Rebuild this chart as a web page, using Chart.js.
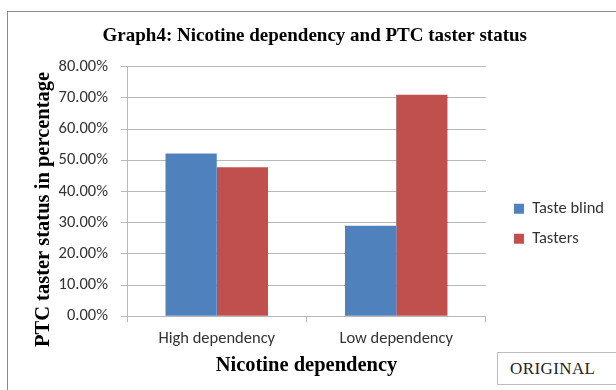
<!DOCTYPE html>
<html>
<head>
<meta charset="utf-8">
<script src="https://cdn.jsdelivr.net/npm/chart.js@4.4.1/dist/chart.umd.min.js"></script>
<style>
  html, body { margin: 0; padding: 0; background: #ffffff; overflow: hidden; }
  #stage { position: relative; width: 616px; height: 390px; overflow: hidden; background: #ffffff; }
  #frame { position: absolute; left: 7px; top: 11px; width: 640px; height: 420px; border: 1px solid #8a8a8a; box-sizing: border-box; }
  #chart { position: absolute; left: 0; top: 0; }
  #stamp { position: absolute; left: 497px; top: 352px; width: 140px; height: 33px; border: 1px solid #bdbdbd;
           box-sizing: border-box; background: #ffffff; font-family: "Liberation Serif", "Times New Roman", serif;
           font-size: 17px; letter-spacing: 0.4px; color: #222222; line-height: 31px; padding-left: 12px; }
</style>
</head>
<body>
<div id="stage">
  <div id="frame"></div>
  <canvas id="chart" width="616" height="390"></canvas>
  <div id="stamp">ORIGINAL</div>
</div>
<script>
// Nicotine dependency groups and share of each PTC taster status (percent)
const categories = ['High dependency', 'Low dependency'];
const seriesNames = ['Taste blind', 'Tasters'];
const tasteBlind = [52.2, 29.0];
const tasters = [47.8, 71.0];
// value axis: 0% to 80% in steps of 10%
const yTickMax = 80;
const yTickStep = 10;

const sansFont = 'Carlito, Calibri, "Open Sans", Lato, sans-serif';
const serifFont = '"Liberation Serif", "Times New Roman", serif';
const gridGray = '#b8b8b8';

// nudges the legend away from the plot and centres the heading over the frame
const boxNudge = {
  id: 'boxNudge',
  afterLayout(chart) {
    const lg = chart.legend;
    if (lg) { lg.left += 14.5; lg.right += 14.5; }
    const tb = chart.titleBlock;
    if (tb) { tb.left += 15; tb.right += 15; }
  }
};

new Chart(document.getElementById('chart'), {
  type: 'bar',
  data: {
    labels: categories,
    datasets: [
      { label: seriesNames[0], data: tasteBlind, backgroundColor: '#4F81BD', borderWidth: 0 },
      { label: seriesNames[1], data: tasters, backgroundColor: '#C0504D', borderWidth: 0 }
    ]
  },
  plugins: [boxNudge],
  options: {
    responsive: false,
    animation: false,
    devicePixelRatio: 1,
    layout: { padding: { left: 0, right: 16.5, top: 0, bottom: 5.5 } },
    datasets: { bar: { categoryPercentage: 0.571, barPercentage: 1.0 } },
    scales: {
      x: {
        offset: true,
        grid: { offset: true, drawOnChartArea: false, drawTicks: true, tickLength: 6, color: gridGray },
        border: { display: true, color: gridGray, width: 1 },
        ticks: { color: '#333333', padding: 7, font: { family: sansFont, size: 16.5 } },
        title: {
          display: true, text: 'Nicotine dependency', color: '#000000',
          font: { family: serifFont, size: 20.5, weight: 'bold', lineHeight: 1 },
          padding: { top: -0.5, bottom: 8.5 }
        }
      },
      y: {
        min: 0, max: yTickMax,
        grid: { color: gridGray, tickLength: 6, lineWidth: 1 },
        border: { display: true, color: gridGray, width: 1 },
        ticks: {
          stepSize: yTickStep, color: '#333333', padding: 13,
          font: { family: sansFont, size: 16.5 },
          callback: (v) => v.toFixed(2) + '%'
        },
        title: {
          display: true, text: 'PTC taster status in percentage       ', color: '#000000',
          font: { family: serifFont, size: 20.5, weight: 'bold' },
          padding: { top: 31, bottom: -10 }
        }
      }
    },
    plugins: {
      title: {
        display: true,
        text: 'Graph4: Nicotine dependency and PTC taster status',
        color: '#000000',
        font: { family: serifFont, size: 19, weight: 'bold' },
        padding: { top: 25, bottom: 19 }
      },
      legend: {
        position: 'right',
        fullSize: false,
        align: 'start',
        title: { display: true, text: '', font: { size: 10 }, padding: { top: 108.25, bottom: 0 } },
        labels: {
          boxWidth: 10, boxHeight: 10, padding: 13.5, color: '#333333',
          font: { family: sansFont, size: 16.5 }
        }
      },
      tooltip: { enabled: false }
    }
  }
});
</script>
</body>
</html>
